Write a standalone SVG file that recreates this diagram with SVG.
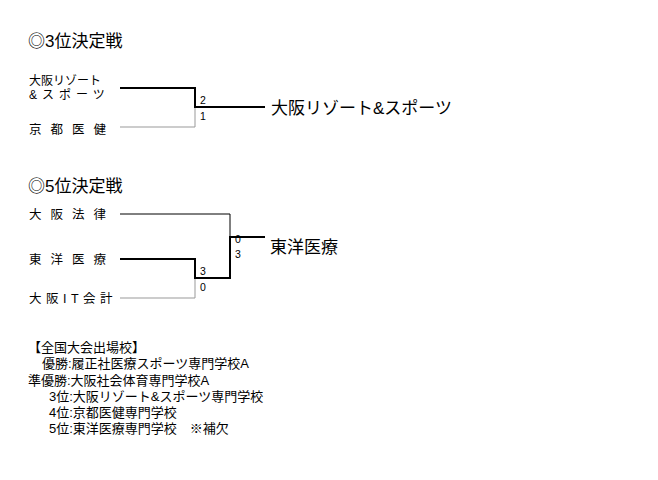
<svg xmlns="http://www.w3.org/2000/svg" width="658" height="480" viewBox="0 0 658 480">
<style>
text{font-family:"Liberation Sans","Noto Sans CJK JP",sans-serif;fill:#000}
.t{font-size:17px}
.n{font-size:12.5px}
.n2{font-size:12px}
.s{font-size:10.5px}
.w{font-size:17px}
.l{font-size:13px}
.k{stroke:#000;stroke-width:2;fill:none}
.g{stroke:#999;stroke-width:1;fill:none}
.b{stroke:#000;stroke-width:1;fill:none}
</style>
<rect width="658" height="480" fill="#fff"/>
<text class="t" x="28" y="47">◎3位決定戦</text>
<text class="t" x="28" y="192">◎5位決定戦</text>
<g id="n-osaka-resort"><text class="n2" x="29" y="85">大阪リゾート</text><text class="n2" x="29" y="99" letter-spacing="5">&amp;スポーツ</text></g>
<g id="n-kyoto"><text class="n" x="29" y="134" letter-spacing="9">京都医健</text></g>
<g id="n-winner3"><text class="w" x="271" y="114">大阪リゾート&amp;スポーツ</text></g>
<g id="n-houritsu"><text class="n" x="29" y="219" letter-spacing="9">大阪法律</text></g>
<g id="n-toyo"><text class="n" x="29" y="264" letter-spacing="9">東洋医療</text></g>
<g id="n-it"><text class="n" x="29" y="303" letter-spacing="4.5">大阪IT会計</text></g>
<g id="n-winner5"><text class="w" x="270" y="253">東洋医療</text></g>
<g id="connectors">
<path class="k" d="M120 88H195V107H265"/>
<path class="g" d="M120 127H195V108"/>
<path class="b" d="M120 214H230V237"/>
<path class="k" d="M120 259H195V278H230V237H265"/>
<path class="g" d="M120 298H195V279"/>
</g>
<g id="scores">
<text class="s" x="200" y="104">2</text><text class="s" x="200" y="120">1</text>
<text class="s" x="235" y="243">0</text><text class="s" x="235" y="258">3</text>
<text class="s" x="200" y="275">3</text><text class="s" x="200" y="291">0</text>
</g>
<g id="notes">
<text class="l" x="28" y="352">【全国大会出場校】</text>
<text class="l" x="42" y="368">優勝:履正社医療スポーツ専門学校A</text>
<text class="l" x="28" y="385">準優勝:大阪社会体育専門学校A</text>
<text class="l" x="49" y="401">3位:大阪リゾート&amp;スポーツ専門学校</text>
<text class="l" x="49" y="417">4位:京都医健専門学校</text>
<text class="l" x="49" y="433">5位:東洋医療専門学校　※補欠</text>
</g>
</svg>
